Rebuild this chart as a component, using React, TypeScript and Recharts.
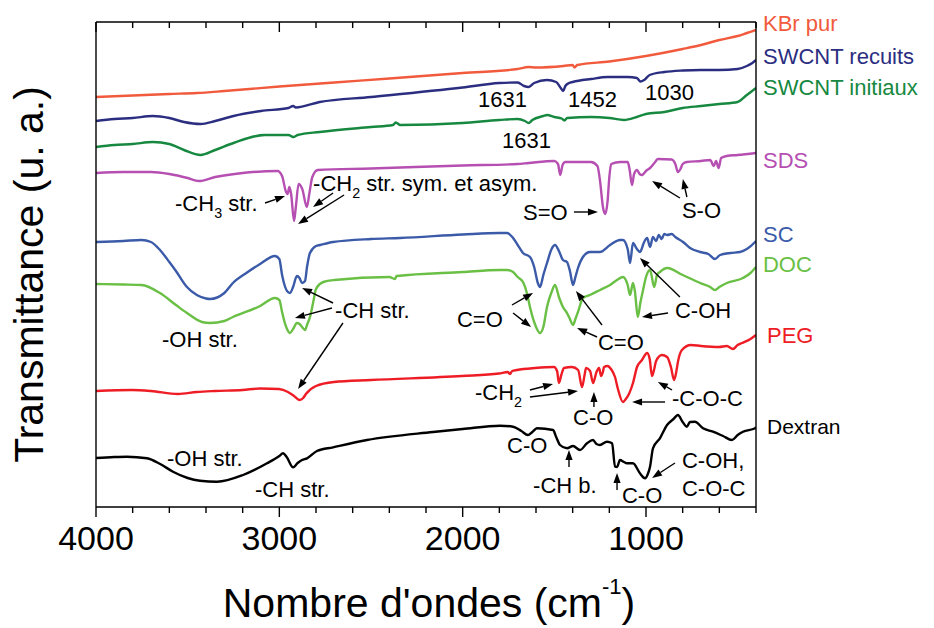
import React from 'react';
import { LineChart, Line, XAxis, YAxis, ReferenceLine, ReferenceDot } from 'recharts';

type Pt = [number, number];

const FONT = '"Liberation Sans", Arial, Helvetica, sans-serif';

// wavenumber ticks (cm-1), every 200, labels on the 1000s
const WN_TICKS = [4000, 3800, 3600, 3400, 3200, 3000, 2800, 2600, 2400, 2200, 2000, 1800, 1600, 1400, 1200, 1000, 800, 600, 400];

// spectra: [wavenumber, transmittance (u. a., offset)]
const KBR_PUR: Pt[] = [
  [4000, 410], [3800, 411.5], [3600, 413], [3450, 414], [3300, 416], [3000, 420.5], [2700, 424.5], [2400, 428.5],
  [2000, 434], [1700, 438], [1640, 440], [1600, 439.5], [1450, 441], [1400, 442], [1390, 439.5], [1375, 442],
  [1200, 445.5], [1000, 451], [800, 458], [700, 462], [600, 467], [500, 471], [450, 474], [400, 477],
];

const SWCNT_RECUITS: Pt[] = [
  [4000, 386], [3900, 388], [3800, 389], [3690, 391], [3600, 389], [3520, 385], [3430, 383], [3350, 386],
  [3250, 391], [3100, 396], [2950, 399], [2925, 401], [2910, 399.5], [2780, 405], [2500, 410], [2000, 419.5],
  [1800, 424], [1700, 424.5], [1665, 421], [1640, 420], [1610, 424], [1540, 427], [1490, 425], [1465, 419],
  [1452, 416], [1440, 421], [1420, 424], [1400, 425], [1300, 428], [1210, 430], [1100, 430], [1050, 429],
  [1030, 425.5], [1010, 427], [980, 432], [900, 435], [800, 436.5], [700, 437], [600, 437], [500, 438],
  [450, 441], [420, 444], [400, 447],
];

const SWCNT_INITIAUX: Pt[] = [
  [4000, 360], [3900, 362], [3800, 363], [3690, 365], [3600, 363], [3520, 357], [3430, 352], [3350, 357],
  [3250, 364], [3080, 372], [2950, 372], [2924, 370], [2900, 372], [2780, 375], [2500, 380], [2380, 382],
  [2365, 384.5], [2340, 382], [2000, 384], [1800, 387], [1700, 388], [1660, 386], [1640, 384], [1620, 387],
  [1560, 391], [1540, 392], [1500, 390], [1460, 388.5], [1445, 386.5], [1430, 389], [1300, 390], [1200, 389],
  [1120, 387], [1050, 390], [1000, 393], [900, 395], [800, 399], [700, 401], [600, 403], [500, 405],
  [450, 412], [400, 419],
];

const SDS: Pt[] = [
  [4000, 334], [3850, 335], [3700, 335], [3600, 333], [3500, 329], [3440, 326], [3350, 330], [3200, 334],
  [3010, 336], [2985, 331], [2965, 316], [2955, 313], [2945, 320], [2935, 312], [2920, 286], [2910, 300],
  [2895, 323], [2875, 318], [2850, 300], [2835, 315], [2820, 330], [2790, 337], [2500, 338.5], [2000, 341.5],
  [1700, 343], [1640, 344], [1500, 346], [1480, 343], [1468, 332], [1455, 342], [1440, 345], [1300, 345],
  [1265, 341], [1250, 325], [1235, 300], [1222, 293], [1210, 305], [1200, 330], [1190, 343], [1140, 345],
  [1100, 345], [1090, 338], [1076, 322], [1065, 333], [1049, 337], [1035, 333], [1022, 332], [1000, 336],
  [978, 339], [950, 345], [935, 348], [860, 347.5], [840, 343], [826, 335], [812, 338], [800, 343],
  [777, 345], [700, 346], [650, 347], [630, 341], [618, 346], [604, 339], [590, 349], [560, 351],
  [500, 352], [400, 354],
];

const SC: Pt[] = [
  [4000, 265], [3850, 266], [3752, 267], [3700, 265], [3651, 257], [3600, 245], [3564, 236], [3504, 220],
  [3450, 212], [3400, 208.5], [3378, 208], [3300, 214], [3253, 224], [3180, 234], [3105, 243], [3024, 251],
  [3000, 248], [2985, 232], [2970, 221], [2958, 216], [2942, 214], [2925, 220], [2904, 231], [2890, 229],
  [2876, 224], [2860, 226], [2849, 240], [2833, 254], [2800, 261], [2778, 262], [2707, 265], [2500, 268],
  [2342, 269], [2000, 272.5], [1800, 274], [1758, 274], [1725, 269], [1700, 262], [1671, 254], [1633, 250],
  [1610, 240], [1590, 224], [1578, 220], [1560, 232], [1540, 244], [1515, 258], [1496, 262], [1475, 256],
  [1453, 247], [1431, 245], [1415, 236], [1398, 222], [1385, 230], [1371, 239], [1344, 250], [1306, 255],
  [1251, 255], [1196, 262], [1142, 267], [1126, 267], [1100, 258], [1087, 244], [1071, 264], [1050, 258],
  [1033, 255], [1010, 265], [994, 269], [978, 260], [962, 270], [945, 266], [930, 272], [915, 268],
  [900, 273], [885, 272], [860, 273], [840, 270], [798, 265], [760, 259], [705, 255], [660, 253],
  [624, 248], [596, 252], [540, 254], [487, 255], [450, 258], [405, 265], [400, 266],
];

const DOC: Pt[] = [
  [4000, 223], [3850, 222.5], [3752, 222], [3651, 214], [3564, 202], [3504, 194], [3422, 185], [3378, 184],
  [3300, 186], [3253, 190], [3105, 201], [3024, 209], [3000, 207], [2985, 195], [2970, 184], [2958, 178],
  [2942, 174], [2925, 178], [2904, 184], [2890, 183], [2876, 180], [2860, 177], [2849, 182], [2833, 190],
  [2815, 205], [2800, 218], [2760, 225], [2700, 227], [2400, 230], [2370, 228], [2360, 231], [2000, 235],
  [1800, 237], [1758, 237], [1725, 235], [1700, 230], [1671, 225], [1650, 214], [1633, 200], [1610, 185],
  [1578, 174], [1560, 180], [1540, 200], [1515, 215], [1496, 222], [1475, 210], [1453, 200], [1431, 194],
  [1415, 188], [1398, 182], [1385, 188], [1371, 195], [1344, 209], [1306, 212], [1251, 217], [1196, 222],
  [1158, 227], [1126, 230], [1100, 222], [1087, 212], [1071, 224], [1060, 215], [1045, 190], [1030, 205],
  [1016, 217], [1000, 230], [978, 237], [955, 220], [940, 232], [924, 235], [885, 239], [800, 232],
  [705, 224], [650, 220], [624, 217], [600, 220], [559, 224], [471, 229], [430, 234], [405, 239], [400, 240],
];

const PEG: Pt[] = [
  [4000, 116], [3804, 117], [3700, 116], [3553, 113], [3450, 115], [3351, 116], [3200, 117], [3105, 118.5],
  [3002, 118], [2953, 115], [2920, 111], [2890, 107], [2870, 109], [2855, 113], [2800, 121], [2702, 125],
  [2500, 127], [2004, 131], [1802, 133.5], [1753, 135], [1742, 133], [1730, 136], [1704, 137], [1605, 139],
  [1502, 140], [1485, 136], [1475, 124], [1462, 132], [1447, 139], [1404, 140], [1370, 137], [1349, 120],
  [1335, 132], [1327, 139], [1305, 136], [1289, 124], [1270, 135], [1256, 139], [1245, 131], [1235, 135],
  [1229, 140], [1210, 141], [1191, 138], [1169, 130], [1153, 118], [1126, 105], [1110, 108], [1093, 113],
  [1071, 124], [1049, 140], [1022, 147], [994, 154], [980, 148], [967, 131], [955, 138], [945, 146],
  [913, 152], [885, 150], [864, 140], [847, 127], [835, 135], [826, 145], [804, 157], [755, 162],
  [700, 161], [602, 160], [559, 161], [526, 158], [500, 162], [476, 164], [430, 168], [400, 172],
];

const DEXTRAN: Pt[] = [
  [4000, 49], [3900, 50], [3831, 50.3], [3722, 48.7], [3650, 43], [3580, 35.3], [3500, 29], [3433, 26.3],
  [3340, 25.3], [3198, 32], [3067, 43.7], [3000, 51], [2980, 53.7], [2960, 50], [2925, 39.7], [2900, 44],
  [2876, 47], [2849, 48.7], [2795, 56], [2707, 59.7], [2522, 67], [2162, 75], [2000, 78], [1796, 81.3],
  [1725, 80.3], [1680, 76], [1644, 72], [1620, 75], [1595, 78.7], [1507, 77], [1490, 70], [1469, 62],
  [1431, 58.7], [1398, 61], [1360, 57], [1322, 63.7], [1289, 67], [1270, 63], [1251, 62], [1213, 65.3],
  [1185, 63.7], [1169, 40.3], [1158, 40], [1142, 47], [1120, 45], [1104, 43.7], [1071, 43.7], [1033, 33.7],
  [1005, 28.7], [990, 33], [978, 40.3], [962, 58.7], [924, 68.7], [885, 82], [850, 88], [826, 92],
  [800, 85], [777, 80.3], [760, 85], [733, 85.3], [689, 78.7], [635, 75.3], [580, 71], [531, 67],
  [500, 72], [471, 75.3], [405, 78.7], [400, 80],
];

const SERIES = [
  { key: 'kbr', points: KBR_PUR, color: '#f15a3c' },
  { key: 'recuits', points: SWCNT_RECUITS, color: '#2b2e80' },
  { key: 'initiaux', points: SWCNT_INITIAUX, color: '#17883f' },
  { key: 'sds', points: SDS, color: '#b64fb2' },
  { key: 'sc', points: SC, color: '#3b5ba9' },
  { key: 'doc', points: DOC, color: '#6abf45' },
  { key: 'peg', points: PEG, color: '#ee1c25' },
  { key: 'dextran', points: DEXTRAN, color: '#000000' },
];

// text annotations, anchored at their left baseline ("_n" = subscript)
const NOTES: { text: string; wn: number; t: number; color?: string; size?: number }[] = [
  { text: 'KBr pur', wn: 362, t: 476, color: '#f15a3c' },
  { text: 'SWCNT recuits', wn: 362, t: 443, color: '#2b2e80' },
  { text: 'SWCNT initiaux', wn: 362, t: 412, color: '#17883f' },
  { text: 'SDS', wn: 362, t: 339, color: '#b64fb2' },
  { text: 'SC', wn: 362, t: 265, color: '#3b5ba9' },
  { text: 'DOC', wn: 362, t: 235, color: '#6abf45' },
  { text: 'PEG', wn: 340, t: 164, color: '#ee1c25' },
  { text: 'Dextran', wn: 340, t: 73, size: 21 },
  { text: '1631', wn: 1916, t: 400 },
  { text: '1452', wn: 1425, t: 400 },
  { text: '1030', wn: 1005, t: 407 },
  { text: '1631', wn: 1785, t: 359 },
  { text: '-CH_3 str.', wn: 3569, t: 296 },
  { text: '-CH_2 str. sym. et asym.', wn: 2816, t: 316 },
  { text: 'S=O', wn: 1671, t: 287 },
  { text: 'S-O', wn: 804, t: 289 },
  { text: '-CH str.', wn: 2696, t: 189 },
  { text: '-OH str.', wn: 3640, t: 160 },
  { text: 'C=O', wn: 2031, t: 180 },
  { text: 'C=O', wn: 1262, t: 157 },
  { text: 'C-OH', wn: 842, t: 189 },
  { text: '-CH_2', wn: 1933, t: 107 },
  { text: 'C-O', wn: 1398, t: 82 },
  { text: '-C-O-C', wn: 858, t: 101 },
  { text: '-OH str.', wn: 3613, t: 41 },
  { text: '-CH str.', wn: 3133, t: 10 },
  { text: 'C-O', wn: 1758, t: 54 },
  { text: '-CH b.', wn: 1616, t: 14 },
  { text: 'C-O', wn: 1131, t: 4 },
  { text: 'C-OH,', wn: 804, t: 39 },
  { text: 'C-O-C', wn: 804, t: 11 },
];

// arrows: tail -> head
const ARROWS: { from: Pt; to: Pt }[] = [
  { from: [3078, 304], to: [2969, 311] },
  { from: [2707, 314], to: [2816, 300] },
  { from: [2647, 312], to: [2898, 283] },
  { from: [1393, 295], to: [1262, 295] },
  { from: [815, 309], to: [967, 326] },
  { from: [777, 310], to: [799, 328] },
  { from: [2707, 204], to: [2876, 219] },
  { from: [2713, 199], to: [2915, 189] },
  { from: [2653, 184], to: [2898, 118] },
  { from: [1731, 202], to: [1616, 214] },
  { from: [1725, 194], to: [1627, 180] },
  { from: [1240, 182], to: [1382, 216] },
  { from: [1267, 170], to: [1376, 179] },
  { from: [815, 210], to: [1033, 249] },
  { from: [880, 194], to: [1022, 190] },
  { from: [1633, 117], to: [1507, 123] },
  { from: [1633, 110], to: [1371, 116] },
  { from: [1284, 100], to: [1284, 115] },
  { from: [896, 105], to: [1076, 105] },
  { from: [858, 117], to: [935, 125] },
  { from: [1420, 40], to: [1420, 57] },
  { from: [1158, 17], to: [1158, 34] },
  { from: [842, 44], to: [967, 29] },
];

const AXIS_COLOR = '#000';

const BottomTick = (props: any) => {
  const { x, y, payload } = props;
  const major = payload.value % 1000 === 0;
  return (
    <g>
      <line x1={x} x2={x} y1={y} y2={y + (major ? 10 : 6)} stroke={AXIS_COLOR} strokeWidth={1.4} />
      {major && (
        <text x={x} y={y + 43} textAnchor="middle" fontSize={34} fontFamily={FONT} fill="#000">
          {payload.value}
        </text>
      )}
    </g>
  );
};

const TopTick = (props: any) => {
  const { x, y, payload } = props;
  const major = payload.value % 1000 === 0;
  return <line x1={x} x2={x} y1={y} y2={y + (major ? 10 : 6)} stroke={AXIS_COLOR} strokeWidth={1.4} />;
};

const ArrowShape = (props: any) => {
  const { x1, y1, x2, y2 } = props;
  if ([x1, y1, x2, y2].some((v) => v == null || isNaN(v))) return <g />;
  const a = Math.atan2(y2 - y1, x2 - x1);
  const len = 10;
  const half = 3.6;
  const bx = x2 - len * Math.cos(a);
  const by = y2 - len * Math.sin(a);
  const pts = `${x2},${y2} ${bx - half * Math.sin(a)},${by + half * Math.cos(a)} ${bx + half * Math.sin(a)},${by - half * Math.cos(a)}`;
  return (
    <g>
      <line x1={x1} y1={y1} x2={bx} y2={by} stroke="#000" strokeWidth={1.4} />
      <polygon points={pts} fill="#000" />
    </g>
  );
};

const noteShape = (text: string, color: string, size: number) => (props: any) => {
  const { cx, cy } = props;
  const parts = text.split(/_(\d)/);
  return (
    <text x={cx} y={cy} fontSize={size} fontFamily={FONT} fill={color} style={{ whiteSpace: 'pre' }}>
      {parts.map((p, i) =>
        i % 2 === 1 ? (
          <tspan key={i} fontSize={size * 0.65} dy={7}>{p}</tspan>
        ) : (
          <tspan key={i} dy={i > 0 ? -7 : 0}>{p}</tspan>
        )
      )}
    </text>
  );
};

const XTitle = (props: any) => {
  const vb = props.viewBox || { x: 96, y: 507, width: 660 };
  return (
    <text x={vb.x + vb.width / 2 + 3} y={vb.y + 110} textAnchor="middle" fontSize={41} fontFamily={FONT} fill="#000">
      Nombre d'ondes (cm
      <tspan fontSize={22} dy={-23}>-1</tspan>
      <tspan dy={23}>)</tspan>
    </text>
  );
};

const YTitle = (props: any) => {
  const vb = props.viewBox || { x: 95, y: 22, width: 1, height: 485 };
  const cx = vb.x + vb.width - 53;
  const cy = vb.y + vb.height / 2 + 10;
  return (
    <text x={cx} y={cy} transform={`rotate(-90 ${cx} ${cy})`} textAnchor="middle" fontSize={41} fontFamily={FONT} fill="#000">
      Transmittance (u. a.)
    </text>
  );
};

export default function App() {
  return (
    <div style={{ position: 'absolute', left: 0, top: 0, width: 934, height: 628, background: '#fff' }}>
      <LineChart width={934} height={628} margin={{ top: 21, right: 177, bottom: 120, left: 95 }}>
        <XAxis
          dataKey="wn"
          type="number"
          domain={[400, 4000]}
          reversed
          allowDataOverflow
          ticks={WN_TICKS}
          interval={0}
          height={1}
          tickSize={0}
          tickMargin={0}
          tickLine={false}
          tick={BottomTick}
          axisLine={{ stroke: AXIS_COLOR, strokeWidth: 1.4 }}
          label={{ content: XTitle }}
        />
        <XAxis
          xAxisId="top"
          orientation="top"
          dataKey="wn"
          type="number"
          domain={[400, 4000]}
          reversed
          allowDataOverflow
          ticks={WN_TICKS}
          interval={0}
          height={1}
          tickSize={0}
          tickMargin={0}
          tickLine={false}
          tick={TopTick}
          axisLine={{ stroke: AXIS_COLOR, strokeWidth: 1.4 }}
        />
        <YAxis
          type="number"
          domain={[0, 485]}
          allowDataOverflow
          width={1}
          tick={false}
          tickLine={false}
          axisLine={{ stroke: AXIS_COLOR, strokeWidth: 1.4 }}
          label={{ content: YTitle }}
        />
        <YAxis
          yAxisId="right"
          orientation="right"
          type="number"
          domain={[0, 485]}
          width={1}
          tick={false}
          tickLine={false}
          axisLine={{ stroke: AXIS_COLOR, strokeWidth: 1.4 }}
        />
        {SERIES.map((s) => (
          <Line
            key={s.key}
            data={s.points.map(([wn, t]) => ({ wn, t }))}
            dataKey="t"
            type="monotone"
            stroke={s.color}
            strokeWidth={2.4}
            dot={false}
            activeDot={false}
            isAnimationActive={false}
          />
        ))}
        {ARROWS.map((a, i) => (
          <ReferenceLine
            key={`arrow-${i}`}
            segment={[{ x: a.from[0], y: a.from[1] }, { x: a.to[0], y: a.to[1] }]}
            ifOverflow="visible"
            shape={ArrowShape}
          />
        ))}
        {NOTES.map((n, i) => (
          <ReferenceDot
            key={`note-${i}`}
            x={n.wn}
            y={n.t}
            r={0}
            ifOverflow="visible"
            shape={noteShape(n.text, n.color || '#000', n.size || 22)}
          />
        ))}
      </LineChart>
    </div>
  );
}
